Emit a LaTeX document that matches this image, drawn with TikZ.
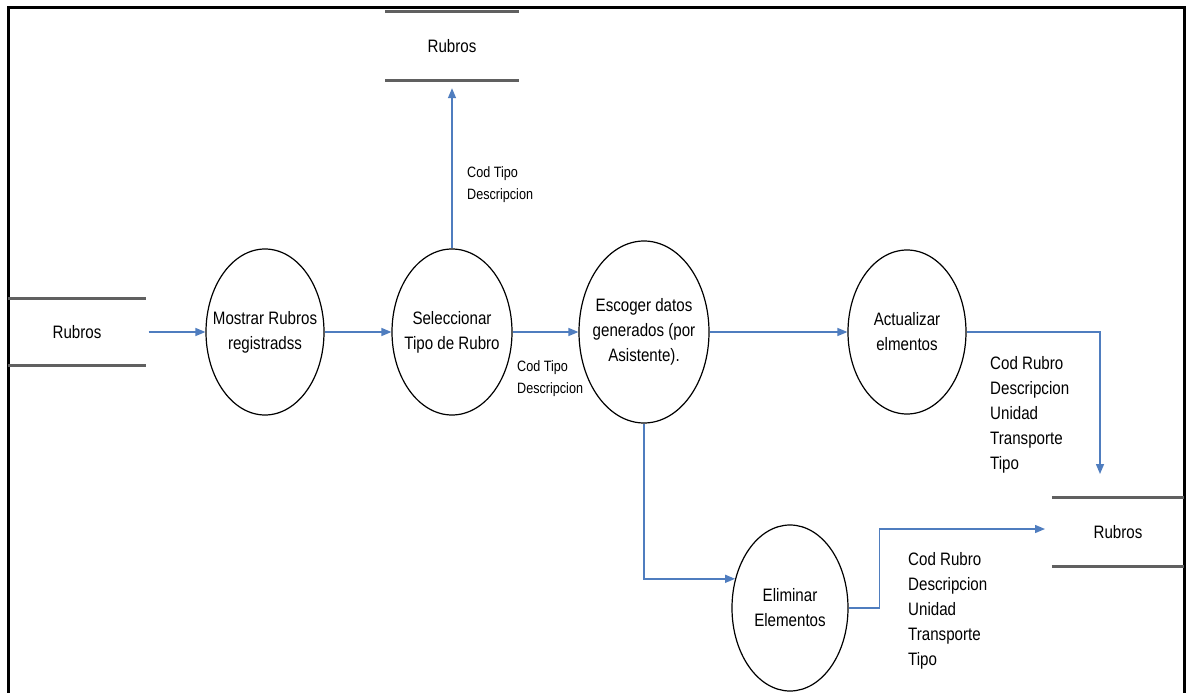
\documentclass[tikz,border=0pt]{standalone}
\usepackage{fontspec}
\setmainfont{Liberation Sans}[FakeStretch=0.84]
\usetikzlibrary{shapes.geometric,arrows.meta,calc}
\definecolor{flowblue}{HTML}{4F7DBF}
\definecolor{storegray}{HTML}{606060}
\begin{document}
\begin{tikzpicture}[x=1pt,y=-1pt,
  frameline/.style={draw=black,line width=3pt},
  proc/.style={ellipse,draw=black,line width=1.2pt,inner sep=0pt},
  proctext/.style={inner sep=0pt,align=center,font=\fontsize{18}{25}\selectfont},
  store/.style={inner sep=0pt,font=\fontsize{18}{25}\selectfont},
  storeline/.style={draw=storegray,line width=3pt},
  flow/.style={draw=flowblue,line width=1.4pt,-{Triangle[length=10pt,width=8pt]}},
  biglbl/.style={anchor=west,inner sep=0pt,align=left,font=\fontsize{18}{25}\selectfont},
  smalllbl/.style={anchor=west,inner sep=0pt,align=left,font=\fontsize{15}{22}\selectfont}]
\useasboundingbox (0,0) rectangle (1192,693);
\fill[white] (0,0) rectangle (1192,693);

% outer frame, open at the bottom edge
\draw[frameline] (8,693) -- (8,8) -- (1184,8) -- (1184,693);

% data stores
\node[store,minimum width=133pt,minimum height=68pt] (ts) at (452,46) {Rubros};
\node[store,minimum width=137pt,minimum height=67pt] (ls) at (77,332) {Rubros};
\node[store,minimum width=132pt,minimum height=69pt] (rs) at (1118,532) {Rubros};
\foreach \s in {ts,ls,rs}{
  \draw[storeline] (\s.north west) -- (\s.north east);
  \draw[storeline] (\s.south west) -- (\s.south east);
}

% processes: fixed-size ellipses with their captions on top
\node[proc,minimum width=118pt,minimum height=166pt] (c1) at (265,332) {};
\node[proc,minimum width=120pt,minimum height=166pt] (c2) at (452,332) {};
\node[proc,minimum width=130pt,minimum height=182pt] (c3) at (644,332) {};
\node[proc,minimum width=118pt,minimum height=164pt] (c4) at (907,332) {};
\node[proc,minimum width=116pt,minimum height=166pt] (c5) at (790,608) {};
\node[proctext] (t1) at (c1) {Mostrar Rubros\\registradss};
\node[proctext] (t2) at (c2) {Seleccionar\\Tipo de Rubro};
\node[proctext] (t3) at (c3) {Escoger datos\\generados (por\\Asistente).};
\node[proctext] (t4) at (c4) {Actualizar\\elmentos};
\node[proctext] (t5) at (c5) {Eliminar\\Elementos};

% connector end points at the right-hand store
\coordinate (rsin) at (1100,474);
\coordinate (rsin2) at (1045,529);

% data flows
\draw[flow,shorten <=3pt] (ls.east) -- (c1.west);
\draw[flow] (c1.east) -- (c2.west);
\draw[flow] (c2.east) -- (c3.west);
\draw[flow,shorten >=8pt] (c2.north) -- (ts.south);
\draw[flow] (c3.east) -- (c4.west);
\draw[flow] (c4.east) -| (rsin);
\draw[flow] (c3.south) |- (c5.152);
\draw[flow] (c5.east) -- ++(31,0) |- (rsin2);

% flow labels
\node[smalllbl] (l1) at (467,185) {Cod Tipo\\Descripcion};
\node[smalllbl] (l2) at (517,379) {Cod Tipo\\Descripcion};
\node[biglbl] (l3) at (990,415) {Cod Rubro\\Descripcion\\Unidad\\Transporte\\Tipo};
\node[biglbl] (l4) at (908,611) {Cod Rubro\\Descripcion\\Unidad\\Transporte\\Tipo};
\end{tikzpicture}
\end{document}
